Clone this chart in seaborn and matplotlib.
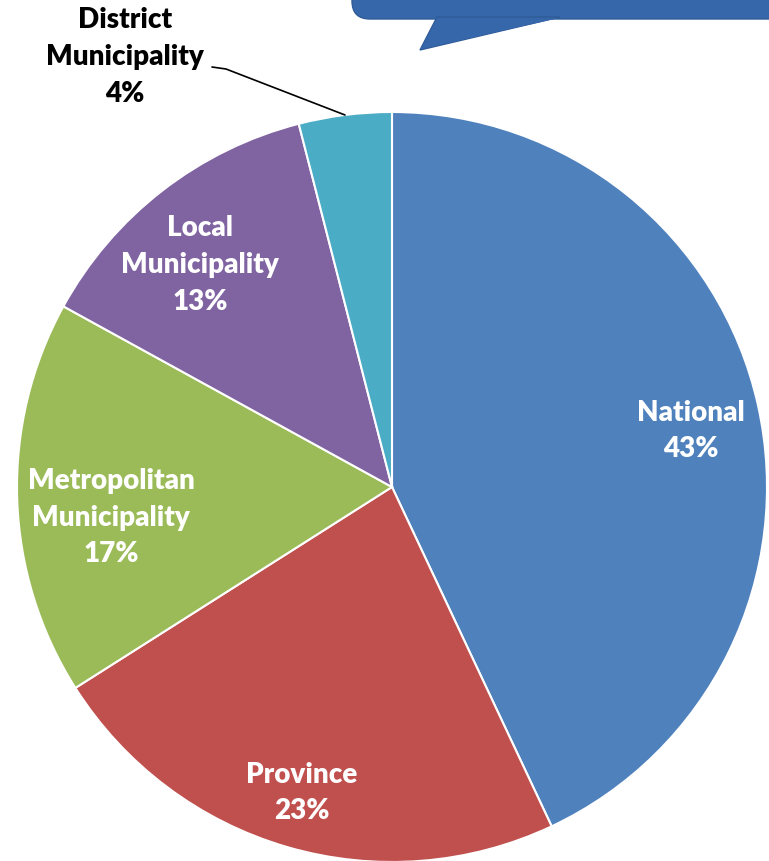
import matplotlib
matplotlib.use("Agg")
import matplotlib.pyplot as plt
import seaborn as sns
from matplotlib.patches import FancyBboxPatch, Polygon

sns.set_theme(style="white")
plt.rcParams['font.family'] = ['Lato', 'DejaVu Sans']

categories = ["National", "Province", "Metropolitan\nMunicipality", "Local\nMunicipality", "District\nMunicipality"]
shares = [43, 23, 17, 13, 4]
colors = ["#4F81BD", "#C0504D", "#9BBB59", "#8064A2", "#4BACC6"]

W, H = 769, 861
fig = plt.figure(figsize=(W / 100, H / 100), dpi=100)
ax = fig.add_axes([0, 0, 1, 1])

cx, cy, r = 392, H - 487, 375
ax.pie(shares, colors=colors, startangle=90, counterclock=False,
       center=(cx, cy), radius=r, frame=True,
       wedgeprops=dict(edgecolor="white", linewidth=1.5))
ax.set_xlim(0, W)
ax.set_ylim(0, H)
ax.set_aspect("equal")
ax.axis("off")

# label positions (pixel coords, top-origin)
label_pos = [(691, 431), (302, 793), (111, 518), (200, 265), (125, 57)]
text_colors = ["white", "white", "white", "white", "black"]
for cat, val, (x, y), tc in zip(categories, shares, label_pos, text_colors):
    ax.text(x, H - y, f"{cat}\n{val}%", ha="center", va="center", color=tc,
            fontsize=20, fontweight="heavy", linespacing=1.5, zorder=5)

# leader line for District
ax.plot([212, 226, 345], [H - 67, H - 69, H - 115], color="black", lw=1.2, zorder=5)

# callout box (partially off the top/right edge)
box = FancyBboxPatch((352, H - 19), 500, 100, boxstyle="round,pad=0,rounding_size=18",
                     facecolor="#3767AB", edgecolor="#2F5C99", lw=1, zorder=6, clip_on=False)
ax.add_patch(box)
ax.add_patch(Polygon([(437, H - 17), (560, H - 17), (420, H - 50)], closed=True,
                     facecolor="#3767AB", edgecolor="#2F5C99", lw=1, zorder=6))
ax.add_patch(Polygon([(438, H - 18), (559, H - 18), (421, H - 49)], closed=True,
                     facecolor="#3767AB", edgecolor="none", zorder=7))

fig.savefig("out.png", dpi=100)
